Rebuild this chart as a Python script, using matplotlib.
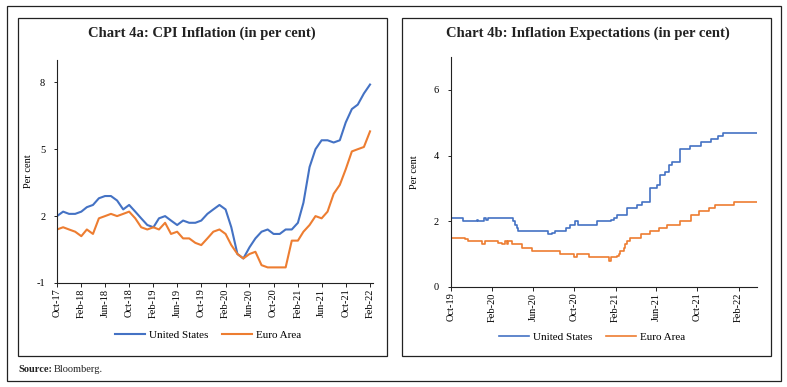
import pandas as pd
import matplotlib
matplotlib.use("Agg")
import matplotlib.pyplot as plt
import matplotlib.dates as mdates
from matplotlib.patches import Rectangle

plt.rcParams['font.family'] = ['Liberation Serif', 'DejaVu Serif']
plt.rcParams['axes.unicode_minus'] = False

BLUE = '#4472C4'
ORANGE = '#ED7D31'

# Chart 4a: monthly CPI inflation, Oct-17 .. Feb-22
months_a = pd.date_range('2017-10-01', '2022-02-01', freq='MS')
us_cpi = [2.0, 2.2, 2.1, 2.1, 2.2, 2.4, 2.5, 2.8, 2.9, 2.9, 2.7, 2.3,
          2.5, 2.2, 1.9, 1.6, 1.5, 1.9, 2.0, 1.8, 1.6, 1.8, 1.7, 1.7,
          1.8, 2.1, 2.3, 2.5, 2.3, 1.5, 0.3, 0.1, 0.6, 1.0, 1.3, 1.4,
          1.2, 1.2, 1.4, 1.4, 1.7, 2.6, 4.2, 5.0, 5.4, 5.4, 5.3, 5.4,
          6.2, 6.8, 7.0, 7.5, 7.9]
ea_cpi = [1.4, 1.5, 1.4, 1.3, 1.1, 1.4, 1.2, 1.9, 2.0, 2.1, 2.0, 2.1,
          2.2, 1.9, 1.5, 1.4, 1.5, 1.4, 1.7, 1.2, 1.3, 1.0, 1.0, 0.8,
          0.7, 1.0, 1.3, 1.4, 1.2, 0.7, 0.3, 0.1, 0.3, 0.4, -0.2, -0.3,
          -0.3, -0.3, -0.3, 0.9, 0.9, 1.3, 1.6, 2.0, 1.9, 2.2, 3.0, 3.4,
          4.1, 4.9, 5.0, 5.1, 5.8]

# Chart 4b: inflation expectations, step series (change dates and levels)
us_exp_dates = ['2019-10-01', '2019-11-07', '2019-12-17', '2019-12-22', '2020-01-09',
                '2020-01-13', '2020-01-21', '2020-04-04', '2020-04-09', '2020-04-14',
                '2020-04-19', '2020-07-16', '2020-07-26', '2020-08-05', '2020-09-08',
                '2020-09-20', '2020-10-05', '2020-10-11', '2020-12-08', '2021-01-17',
                '2021-01-27', '2021-02-04', '2021-03-07', '2021-04-06', '2021-04-20',
                '2021-05-13', '2021-06-04', '2021-06-14', '2021-06-27', '2021-07-10',
                '2021-07-17', '2021-08-12', '2021-09-09', '2021-10-13', '2021-11-12',
                '2021-12-02', '2021-12-16', '2022-03-27']
us_exp = [2.1, 2.0, 2.05, 2.0, 2.1,
          2.05, 2.1, 2.0, 1.9, 1.8,
          1.7, 1.6, 1.65, 1.7, 1.8,
          1.9, 2.0, 1.9, 2.0, 2.05,
          2.1, 2.2, 2.4, 2.5, 2.6,
          3.0, 3.1, 3.4, 3.5, 3.7,
          3.8, 4.2, 4.3, 4.4, 4.5,
          4.6, 4.7, 4.7]

ea_exp_dates = ['2019-10-01', '2019-11-12', '2019-11-20', '2020-01-01', '2020-01-11',
                '2020-02-19', '2020-03-02', '2020-03-10', '2020-03-15', '2020-03-20',
                '2020-03-30', '2020-04-28', '2020-05-28', '2020-08-19', '2020-09-30',
                '2020-10-08', '2020-11-14', '2021-01-12', '2021-01-19', '2021-02-04',
                '2021-02-10', '2021-02-15', '2021-02-25', '2021-03-02', '2021-03-07',
                '2021-03-15', '2021-04-16', '2021-05-15', '2021-06-09', '2021-07-02',
                '2021-08-10', '2021-09-11', '2021-10-05', '2021-11-04', '2021-11-24',
                '2022-01-17', '2022-03-27']
ea_exp = [1.5, 1.45, 1.4, 1.3, 1.4,
          1.35, 1.3, 1.4, 1.3, 1.4,
          1.3, 1.2, 1.1, 1.0, 0.9,
          1.0, 0.9, 0.8, 0.9, 0.95,
          1.0, 1.1, 1.2, 1.3, 1.4,
          1.5, 1.6, 1.7, 1.8, 1.9,
          2.0, 2.2, 2.3, 2.4, 2.5,
          2.6, 2.6]

W, H = 787, 387
fig = plt.figure(figsize=(W / 100, H / 100), dpi=100)

# frames: outer box and the two panel boxes (pixel coords from top-left)
def box(x0, y0, x1, y1):
    fig.patches.append(Rectangle((x0 / W, 1 - y1 / H), (x1 - x0) / W, (y1 - y0) / H,
                                 transform=fig.transFigure, fill=False,
                                 edgecolor='#222222', linewidth=0.9))

box(7, 6, 781, 381)
box(18, 18, 387, 356)
box(402, 18, 771, 356)


def style_axis(ax, start, end, ticks, ylab_x, legend_xy):
    ax.spines['top'].set_visible(False)
    ax.spines['right'].set_visible(False)
    for s in ('left', 'bottom'):
        ax.spines[s].set_color('#222222')
        ax.spines[s].set_linewidth(0.8)
    ax.set_xlim(pd.Timestamp(start), pd.Timestamp(end))
    ax.set_xticks(ticks)
    ax.xaxis.set_major_formatter(mdates.DateFormatter('%b-%y'))
    ax.tick_params(axis='x', rotation=90, labelsize=7.5, length=3, width=0.6, pad=1)
    ax.tick_params(axis='y', labelsize=7.5, length=2.5, width=0.6, pad=6)
    ax.set_ylabel('Per cent', fontsize=7.5)
    # place the y label at a fixed pixel column
    x0 = ax.get_position().x0 * W
    x1 = ax.get_position().x1 * W
    ax.yaxis.set_label_coords((ylab_x - x0) / (x1 - x0), 0.5)
    ax.legend(loc='center', bbox_to_anchor=(legend_xy[0] / W, 1 - legend_xy[1] / H),
              bbox_transform=fig.transFigure, ncol=2, frameon=False,
              fontsize=8, handlelength=2.7, handletextpad=0.35, columnspacing=1.3)


# Chart 4a
ax1 = fig.add_axes([57 / W, 1 - 283 / H, (373 - 57) / W, (283 - 60) / H])
ax1.plot(months_a, us_cpi, color=BLUE, lw=1.5, label='United States')
ax1.plot(months_a, ea_cpi, color=ORANGE, lw=1.5, label='Euro Area')
ax1.set_ylim(-1, 9)
ax1.set_yticks([-1, 2, 5, 8])
style_axis(ax1, '2017-10-01', '2022-02-16',
           pd.date_range('2017-10-01', '2022-02-01', freq='4MS'), 33, (208, 335))
fig.text(202 / W, 1 - 33 / H, 'Chart 4a: CPI Inflation (in per cent)', ha='center', va='center',
         fontsize=10.5, fontweight='bold', color='#222222')

# Chart 4b
ax2 = fig.add_axes([450.7 / W, 1 - 287 / H, (757.3 - 450.7) / W, (287 - 57) / H])
ax2.step(pd.to_datetime(us_exp_dates), us_exp, where='post', color=BLUE, lw=1.2, label='United States')
ax2.step(pd.to_datetime(ea_exp_dates), ea_exp, where='post', color=ORANGE, lw=1.2, label='Euro Area')
ax2.set_ylim(0, 7)
ax2.set_yticks([0, 2, 4, 6])
style_axis(ax2, '2019-10-01', '2022-03-28',
           pd.date_range('2019-10-01', '2022-02-01', freq='4MS'), 419, (592, 337))
fig.text(588 / W, 1 - 33 / H, 'Chart 4b: Inflation Expectations (in per cent)', ha='center', va='center',
         fontsize=10.5, fontweight='bold', color='#222222')

# source note
fig.text(18 / W, 1 - 369 / H, 'Source:', fontsize=7.5, fontweight='bold', va='center', color='#222222')
fig.text(54 / W, 1 - 369 / H, 'Bloomberg.', fontsize=7.5, va='center', color='#222222')

fig.savefig('out.png', dpi=100)
